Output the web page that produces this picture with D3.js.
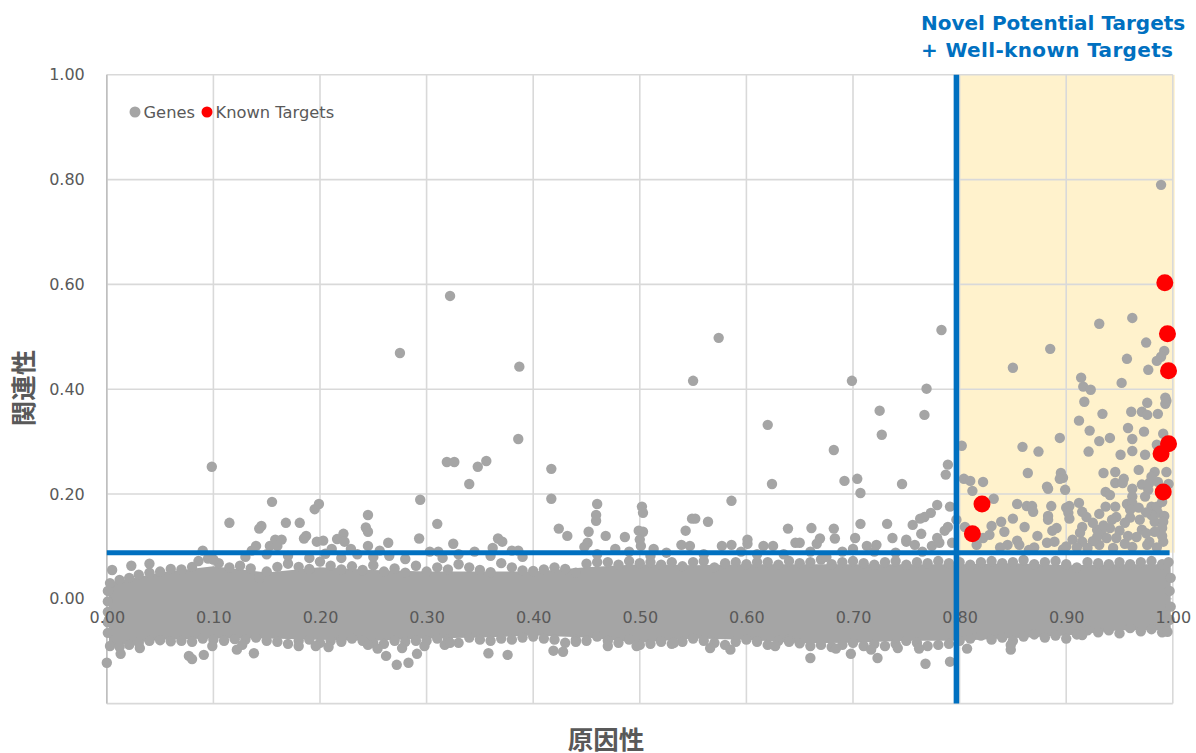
<!DOCTYPE html>
<html lang="ja">
<head>
<meta charset="UTF-8">
<title>Novel Potential Targets</title>
<script src="https://d3js.org/d3.v7.min.js"></script>
<style>
    body { margin: 0; background: #fff; }
    svg { display: block; }
    .tick text { font-family: "DejaVu Sans", sans-serif; font-size: 16px; fill: #595959; }
    .legend-text { font-family: "DejaVu Sans", sans-serif; font-size: 16.3px; fill: #595959; }
    .axis-title { font-family: "Noto Sans CJK JP", sans-serif; font-size: 25.5px; font-weight: 700; fill: #595959; }
    .region-title { font-family: "DejaVu Sans", sans-serif; font-size: 20px; font-weight: 700; fill: #0070c0; }
</style>
</head>
<body>
<svg id="chart" width="1196" height="753"></svg>
<script>
const xTicks = [0, 0.1, 0.2, 0.3, 0.4, 0.5, 0.6, 0.7, 0.8, 0.9, 1];
const yTicks = [0, 0.2, 0.4, 0.6, 0.8, 1];
const causalityCut = 0.797;
const relevanceCut = 0.088;

// known targets
const knownTargets = [[0.9925,0.603],[0.995,0.506],[0.996,0.435],[0.996,0.296],[0.989,0.277],[0.991,0.204],[0.821,0.181],[0.812,0.124]];

// genes that can be told apart, left of the cut
const upperGenes = [
[0.155,0.185],[0.195,0.171],[0.199,0.181],[0.115,0.145],[0.145,0.139],[0.143,0.134],[0.168,0.145],[0.181,0.145],[0.187,0.12],[0.185,0.115],
[0.245,0.16],[0.243,0.136],[0.245,0.128],[0.222,0.124],[0.216,0.114],[0.223,0.109],[0.158,0.113],[0.164,0.113],[0.197,0.109],[0.203,0.111],
[0.264,0.107],[0.14,0.101],[0.153,0.101],[0.16,0.101],[0.245,0.101],[0.211,0.095],[0.229,0.095],[0.09,0.092],[0.256,0.092],[0.22,0.078],
[0.005,0.055],[0.023,0.063],[0.04,0.067],[0.294,0.189],[0.34,0.219],[0.31,0.143],[0.293,0.115],[0.325,0.105],[0.367,0.115],[0.371,0.109],
[0.362,0.097],[0.417,0.191],[0.424,0.134],[0.432,0.12],[0.46,0.181],[0.459,0.16],[0.459,0.149],[0.452,0.128],[0.468,0.12],[0.486,0.118],
[0.451,0.107],[0.448,0.099],[0.502,0.176],[0.503,0.164],[0.499,0.13],[0.503,0.128],[0.5,0.113],[0.501,0.101],[0.477,0.095],[0.586,0.187],
[0.564,0.147],[0.549,0.153],[0.552,0.153],[0.543,0.13],[0.539,0.103],[0.547,0.101],[0.624,0.219],[0.639,0.134],[0.646,0.107],[0.601,0.113],
[0.601,0.105],[0.577,0.101],[0.586,0.103],[0.616,0.101],[0.625,0.101],[0.513,0.095],[0.303,0.09],[0.311,0.09],[0.38,0.092],[0.386,0.092],
[0.0985,0.252],[0.275,0.469],[0.322,0.578],[0.319,0.261],[0.326,0.261],[0.356,0.263],[0.348,0.252],[0.387,0.443],[0.386,0.305],[0.417,0.248],
[0.55,0.416],[0.574,0.498],[0.62,0.332],[0.699,0.416],[0.725,0.359],[0.727,0.313],[0.682,0.284],[0.692,0.225],[0.704,0.229],[0.707,0.202],
[0.746,0.219],[0.769,0.401],[0.767,0.351],[0.783,0.513],[0.789,0.256],[0.787,0.237],[0.779,0.179],[0.791,0.176],[0.773,0.164],[0.767,0.156],
[0.763,0.153],[0.756,0.141],[0.764,0.124],[0.789,0.137],[0.786,0.13],[0.779,0.116],[0.75,0.109],[0.758,0.103],[0.774,0.101],[0.781,0.107],
[0.793,0.107],[0.661,0.135],[0.682,0.134],[0.707,0.143],[0.732,0.143],[0.669,0.115],[0.666,0.105],[0.683,0.115],[0.702,0.116],[0.737,0.116],
[0.722,0.103],[0.713,0.101],[0.7,0.095],[0.65,0.107],[0.75,0.113],[0.797,0.151],
[0.1,0.075],[0.13,0.08],[0.136,0.092],[0.15,0.085],[0.17,0.082],[0.19,0.078],[0.205,0.086],[0.235,0.085],[0.25,0.08],[0.265,0.082],
[0.28,0.076],[0.315,0.078],[0.33,0.085],[0.345,0.09],[0.36,0.082],[0.39,0.08],[0.46,0.085],[0.49,0.09],[0.51,0.082],[0.525,0.088],
[0.56,0.085],[0.595,0.09],[0.61,0.085],[0.635,0.085],[0.66,0.09],[0.675,0.08],[0.69,0.09],[0.72,0.09],[0.74,0.088],[0.765,0.09]
];

// genes inside the shaded quadrant
const targetZoneGenes = [
[0.802,0.292],[0.804,0.229],[0.81,0.225],[0.812,0.206],[0.822,0.223],[0.832,0.191],[0.85,0.441],[0.885,0.477],[0.931,0.525],[0.962,0.536],
[0.975,0.489],[0.992,0.473],[0.985,0.454],[0.989,0.462],[0.957,0.458],[0.977,0.437],[0.952,0.412],[0.914,0.422],[0.916,0.405],[0.923,0.399],
[0.917,0.376],[0.934,0.353],[0.961,0.357],[0.971,0.357],[0.976,0.351],[0.986,0.353],[0.976,0.374],[0.993,0.384],[0.994,0.378],[0.993,0.372],
[0.912,0.34],[0.922,0.321],[0.958,0.326],[0.973,0.319],[0.962,0.305],[0.941,0.307],[0.931,0.301],[0.894,0.307],[0.859,0.29],[0.874,0.281],
[0.921,0.281],[0.951,0.275],[0.962,0.282],[0.974,0.275],[0.991,0.315],[0.985,0.294],[0.864,0.24],[0.895,0.24],[0.897,0.231],[0.894,0.229],
[0.935,0.24],[0.946,0.242],[0.968,0.246],[0.983,0.242],[0.994,0.242],[0.98,0.233],[0.954,0.229],[0.946,0.221],[0.953,0.221],[0.971,0.218],
[0.978,0.221],[0.986,0.223],[0.996,0.219],[0.882,0.214],[0.883,0.21],[0.899,0.208],[0.937,0.204],[0.941,0.198],[0.962,0.21],[0.977,0.208],
[0.974,0.195],[0.854,0.181],[0.863,0.177],[0.868,0.177],[0.869,0.166],[0.886,0.177],[0.883,0.158],[0.883,0.151],[0.85,0.153],[0.839,0.147],
[0.83,0.139],[0.861,0.137],[0.842,0.128],[0.828,0.122],[0.873,0.12],[0.891,0.135],[0.887,0.13],[0.9,0.174],[0.903,0.177],[0.912,0.183],
[0.902,0.164],[0.903,0.153],[0.915,0.166],[0.919,0.156],[0.931,0.162],[0.937,0.176],[0.946,0.176],[0.957,0.181],[0.962,0.195],[0.962,0.183],
[0.968,0.174],[0.98,0.176],[0.985,0.176],[0.986,0.164],[0.992,0.158],[0.98,0.16],[0.983,0.147],[0.991,0.147],[0.99,0.135],[0.983,0.128],
[0.969,0.151],[0.96,0.155],[0.947,0.156],[0.943,0.151],[0.941,0.135],[0.929,0.132],[0.915,0.137],[0.913,0.126],[0.933,0.126],[0.95,0.13],
[0.971,0.132],[0.966,0.118],[0.938,0.116],[0.906,0.113],[0.915,0.109],[0.929,0.118],[0.947,0.116],[0.978,0.109],[0.991,0.109],[0.854,0.111],
[0.845,0.103],[0.856,0.103],[0.882,0.107],[0.889,0.109],[0.897,0.094],[0.931,0.103],[0.944,0.097],[0.962,0.099],[0.976,0.103],[0.816,0.103],
[0.822,0.116],[0.805,0.137],[0.925,0.145],[0.955,0.145],[0.975,0.165],[0.99,0.185],[0.925,0.11],[0.955,0.105],[0.87,0.098],[0.92,0.097],
[0.985,0.098],[0.838,0.098],[0.91,0.098],[0.865,0.093],[0.958,0.12],[0.935,0.14],[0.9,0.1],[0.975,0.125],[0.96,0.17],[0.99,0.12],[0.989,0.79]
];

// lower outliers under the band
const lowerGenes = [
[0,-0.122],[0.013,-0.105],[0.031,-0.094],[0.077,-0.109],[0.08,-0.115],[0.091,-0.107],[0.099,-0.09],[0.122,-0.097],[0.127,-0.088],[0.138,-0.104],
[0.18,-0.09],[0.196,-0.09],[0.208,-0.092],[0.22,-0.082],[0.245,-0.088],[0.254,-0.095],[0.262,-0.109],[0.272,-0.126],[0.283,-0.122],[0.291,-0.105],
[0.298,-0.09],[0.277,-0.094],[0.317,-0.088],[0.322,-0.084],[0.358,-0.104],[0.376,-0.107],[0.419,-0.099],[0.428,-0.101],[0.44,-0.082],[0.47,-0.09],
[0.497,-0.09],[0.532,-0.084],[0.566,-0.094],[0.585,-0.097],[0.627,-0.09],[0.64,-0.082],[0.66,-0.113],[0.698,-0.105],[0.684,-0.095],[0.717,-0.097],
[0.723,-0.113],[0.742,-0.094],[0.762,-0.095],[0.768,-0.124],[0.791,-0.12],[0.807,-0.095],[0.848,-0.097],[0.848,-0.088],[0.915,-0.069],[0.995,-0.063]
];

// the band around zero is too overplotted to separate single genes:
// its solid middle is an envelope, its rim is single dots
const bandX = [0.002,0.05,0.1,0.15,0.2,0.25,0.3,0.35,0.4,0.45,0.5,0.55,0.6,0.65,0.7,0.75,0.8,0.85,0.9,0.95,0.998];
const bandUpper = [0.03,0.05,0.062,0.05,0.06,0.055,0.052,0.052,0.052,0.06,0.066,0.064,0.066,0.066,0.066,0.066,0.066,0.068,0.064,0.066,0.066];
const bandLower = [-0.09,-0.078,-0.076,-0.076,-0.078,-0.08,-0.076,-0.074,-0.07,-0.074,-0.084,-0.076,-0.078,-0.085,-0.084,-0.08,-0.08,-0.075,-0.07,-0.06,-0.06];

const bandTopRim = [
[0.003,0.03],[0.012,0.036],[0.021,0.04],[0.03,0.046],[0.04,0.05],[0.05,0.052],[0.06,0.057],[0.07,0.056],[0.08,0.061],[0.086,0.072],
[0.095,0.077],[0.105,0.068],[0.115,0.06],[0.125,0.063],[0.135,0.058],[0.143,0.04],[0.15,0.052],[0.16,0.061],[0.17,0.067],[0.18,0.061],
[0.19,0.057],[0.2,0.071],[0.21,0.063],[0.22,0.056],[0.23,0.062],[0.24,0.055],[0.25,0.064],[0.26,0.052],[0.27,0.058],[0.28,0.05],
[0.29,0.063],[0.3,0.052],[0.31,0.06],[0.32,0.056],[0.33,0.066],[0.34,0.06],[0.35,0.055],[0.36,0.051],[0.37,0.068],[0.38,0.06],
[0.39,0.054],[0.4,0.053],[0.41,0.056],[0.42,0.06],[0.43,0.057],[0.44,0.05],[0.45,0.067],[0.46,0.07],[0.47,0.07],[0.48,0.065],
[0.49,0.072],[0.5,0.068],[0.51,0.07],[0.52,0.065],[0.53,0.07],[0.54,0.062],[0.55,0.07],[0.56,0.072],[0.57,0.06],[0.58,0.068],
[0.59,0.07],[0.6,0.066],[0.61,0.07],[0.62,0.07],[0.63,0.065],[0.64,0.072],[0.65,0.068],[0.66,0.07],[0.67,0.075],[0.68,0.066],
[0.69,0.07],[0.7,0.072],[0.71,0.068],[0.72,0.065],[0.73,0.07],[0.74,0.072],[0.75,0.065],[0.76,0.07],[0.77,0.068],[0.78,0.072],
[0.79,0.068],[0.8,0.07],[0.81,0.065],[0.82,0.07],[0.83,0.072],[0.84,0.068],[0.85,0.07],[0.86,0.074],[0.87,0.066],[0.88,0.07],
[0.89,0.072],[0.9,0.066],[0.91,0.06],[0.92,0.07],[0.93,0.068],[0.94,0.066],[0.95,0.07],[0.96,0.066],[0.97,0.07],[0.98,0.072],
[0.99,0.066],[0.996,0.07]
];

const bandBottomRim = [
[0.001,0.015],[0.001,-0.005],[0.001,-0.025],[0.001,-0.045],[0.001,-0.065],[0.002,-0.04],[0.003,-0.09],[0.012,-0.092],[0.021,-0.088],[0.03,-0.084],[0.04,-0.08],[0.05,-0.079],[0.06,-0.081],[0.07,-0.08],[0.08,-0.082],
[0.09,-0.076],[0.1,-0.078],[0.11,-0.08],[0.12,-0.077],[0.13,-0.078],[0.14,-0.074],[0.15,-0.08],[0.16,-0.082],[0.17,-0.086],[0.18,-0.08],
[0.19,-0.078],[0.2,-0.084],[0.21,-0.08],[0.22,-0.078],[0.23,-0.076],[0.24,-0.08],[0.25,-0.084],[0.26,-0.086],[0.27,-0.08],[0.28,-0.082],
[0.29,-0.08],[0.3,-0.08],[0.31,-0.076],[0.32,-0.078],[0.33,-0.084],[0.34,-0.074],[0.35,-0.078],[0.36,-0.08],[0.37,-0.076],[0.38,-0.078],
[0.39,-0.074],[0.4,-0.072],[0.41,-0.076],[0.42,-0.078],[0.43,-0.084],[0.44,-0.078],[0.45,-0.08],[0.46,-0.072],[0.47,-0.08],[0.48,-0.084],
[0.49,-0.078],[0.5,-0.088],[0.51,-0.086],[0.52,-0.082],[0.53,-0.086],[0.54,-0.082],[0.55,-0.076],[0.56,-0.08],[0.57,-0.084],[0.58,-0.088],
[0.59,-0.082],[0.6,-0.078],[0.61,-0.082],[0.62,-0.088],[0.63,-0.08],[0.64,-0.078],[0.65,-0.085],[0.66,-0.09],[0.67,-0.088],[0.68,-0.092],
[0.69,-0.088],[0.7,-0.084],[0.71,-0.09],[0.72,-0.086],[0.73,-0.09],[0.74,-0.086],[0.75,-0.08],[0.76,-0.084],[0.77,-0.09],[0.78,-0.088],
[0.79,-0.086],[0.8,-0.08],[0.81,-0.076],[0.82,-0.07],[0.83,-0.078],[0.84,-0.074],[0.85,-0.08],[0.86,-0.072],[0.87,-0.068],[0.88,-0.074],
[0.89,-0.07],[0.9,-0.076],[0.91,-0.068],[0.92,-0.06],[0.93,-0.064],[0.94,-0.06],[0.95,-0.066],[0.96,-0.056],[0.97,-0.062],[0.98,-0.058],
[0.99,-0.064],[0.997,-0.04],[0.998,-0.015],[0.997,0.015],[0.998,0.04]
];

const legendItems = ["Genes", "Known Targets"];

const svg = d3.select("#chart");
const x = d3.scaleLinear().domain([0, 1]).range([106.8, 1172.8]);
const y = d3.scaleLinear().domain([-0.2, 1]).range([703.6, 74.8]);

// shaded quadrant goes under the grid
svg.append("rect")
    .attr("x", x(causalityCut))
    .attr("y", y(1))
    .attr("width", x(1) + 2 - x(causalityCut))
    .attr("height", y(relevanceCut) - y(1))
    .attr("fill", "#fff2cc");

// grid
svg.append("g").selectAll("line").data(xTicks).join("line")
    .attr("x1", d => x(d)).attr("x2", d => x(d))
    .attr("y1", y(1)).attr("y2", y(-0.2))
    .attr("stroke", "#d9d9d9").attr("stroke-width", 1.6);
svg.append("g").selectAll("line").data(yTicks).join("line")
    .attr("x1", x(0)).attr("x2", x(1))
    .attr("y1", d => y(d)).attr("y2", d => y(d))
    .attr("stroke", "#d9d9d9").attr("stroke-width", 1.6);
svg.append("line")
    .attr("x1", x(0)).attr("x2", x(1))
    .attr("y1", y(-0.2)).attr("y2", y(-0.2))
    .attr("stroke", "#d9d9d9").attr("stroke-width", 1.6);
svg.append("line")
    .attr("x1", x(0)).attr("x2", x(0))
    .attr("y1", y(1)).attr("y2", y(-0.2))
    .attr("stroke", "#bfbfbf").attr("stroke-width", 1.6);

// genes
const band = d3.area()
    .x((d, i) => x(bandX[i]))
    .y0((d, i) => y(bandLower[i]))
    .y1((d, i) => y(bandUpper[i]));
svg.append("path").datum(bandX).attr("d", band).attr("fill", "#a5a5a5");

const allGenes = [...bandTopRim, ...bandBottomRim, ...upperGenes, ...targetZoneGenes, ...lowerGenes];
svg.append("g").selectAll("circle").data(allGenes).join("circle")
    .attr("cx", d => x(d[0]))
    .attr("cy", d => y(d[1]))
    .attr("r", 5.2)
    .attr("fill", "#a5a5a5");

// axes, the tick labels sit on top of the dots
const xAxis = svg.append("g")
    .attr("transform", `translate(0,${y(0)})`)
    .call(d3.axisBottom(x).tickValues(xTicks).tickFormat(d3.format(".2f")).tickSize(0).tickPadding(13));
xAxis.select(".domain").remove();

const yAxis = svg.append("g")
    .attr("transform", `translate(${x(0)},0)`)
    .call(d3.axisLeft(y).tickValues(yTicks).tickFormat(d3.format(".2f")).tickSize(0).tickPadding(22));
yAxis.select(".domain").remove();

// cut lines
svg.append("line")
    .attr("x1", x(causalityCut)).attr("x2", x(causalityCut))
    .attr("y1", y(1)).attr("y2", y(-0.2))
    .attr("stroke", "#0070c0").attr("stroke-width", 5.5);
svg.append("line")
    .attr("x1", x(0)).attr("x2", x(0.997))
    .attr("y1", y(relevanceCut)).attr("y2", y(relevanceCut))
    .attr("stroke", "#0070c0").attr("stroke-width", 5);

svg.append("g").selectAll("circle").data(knownTargets).join("circle")
    .attr("cx", d => x(d[0]))
    .attr("cy", d => y(d[1]))
    .attr("r", 8.5)
    .attr("fill", "#ff0000");

svg.append("text").attr("class", "axis-title")
    .attr("x", 606).attr("y", 749).attr("text-anchor", "middle").text("原因性");
svg.append("text").attr("class", "axis-title")
    .attr("transform", "translate(33,388) rotate(-90)").attr("text-anchor", "middle").text("関連性");

svg.append("text").attr("class", "region-title").attr("x", 921).attr("y", 29.5).text("Novel Potential Targets");
svg.append("text").attr("class", "region-title").attr("x", 921).attr("y", 56.5)
    .attr("textLength", 252).text("+ Well-known Targets");

// legend
const legendColors = d3.scaleOrdinal().domain(legendItems).range(["#a5a5a5", "#ff0000"]);
const legendDotX = d3.scaleOrdinal().domain(legendItems).range([135, 207]);
const legend = svg.append("g").selectAll("g").data(legendItems).join("g");
legend.append("circle")
    .attr("cx", d => legendDotX(d)).attr("cy", 112)
    .attr("r", 5.5)
    .attr("fill", d => legendColors(d));
legend.append("text").attr("class", "legend-text")
    .attr("x", d => legendDotX(d) + 8.5).attr("y", 118)
    .text(d => d);
</script>
</body>
</html>
